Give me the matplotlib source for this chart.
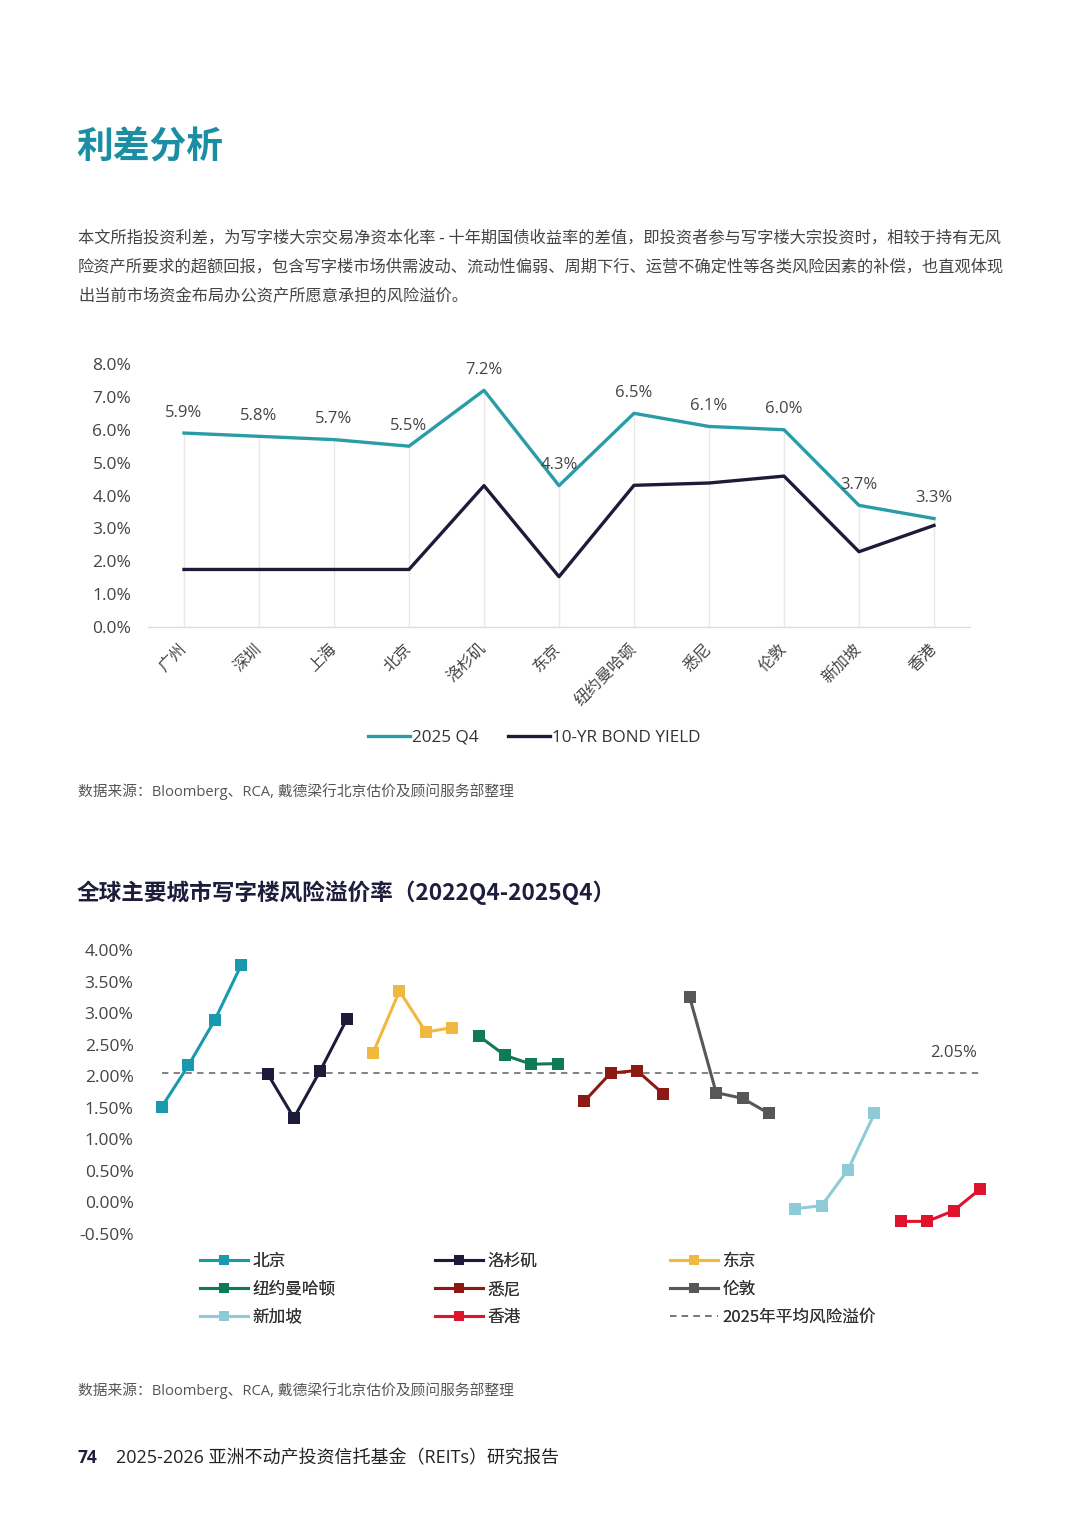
import matplotlib
matplotlib.use("Agg")
import matplotlib.pyplot as plt
import numpy as np

# ---------------- data ----------------
cities_top = ["广州", "深圳", "上海", "北京", "洛杉矶", "东京", "纽约曼哈顿", "悉尼", "伦敦", "新加坡", "香港"]
cap_2025q4 = [5.9, 5.8, 5.7, 5.5, 7.2, 4.3, 6.5, 6.1, 6.0, 3.7, 3.3]
bond_yield = [1.75, 1.75, 1.75, 1.75, 4.30, 1.53, 4.31, 4.38, 4.59, 2.29, 3.09]
top_yticks = [0, 1, 2, 3, 4, 5, 6, 7, 8]

risk_cities = ["北京", "洛杉矶", "东京", "纽约曼哈顿", "悉尼", "伦敦", "新加坡", "香港"]
beijing = [1.52, 2.17, 2.89, 3.76]
los_angeles = [2.04, 1.34, 2.09, 2.90]
tokyo = [2.37, 3.35, 2.70, 2.77]
new_york = [2.64, 2.33, 2.19, 2.20]
sydney = [1.60, 2.05, 2.09, 1.72]
london = [3.25, 1.74, 1.65, 1.41]
singapore = [-0.10, -0.05, 0.52, 1.41]
hong_kong = [-0.30, -0.30, -0.13, 0.21]
avg_premium_2025 = 2.05
bottom_yticks = [-0.5, 0, 0.5, 1.0, 1.5, 2.0, 2.5, 3.0, 3.5, 4.0]

risk_series = [beijing, los_angeles, tokyo, new_york, sydney, london, singapore, hong_kong]
risk_colors = ["#1A98AE", "#1D1B3B", "#F0B83E", "#0F7B56", "#8C1A12", "#575757", "#8DCBD7", "#E0132C"]

# ---------------- style ----------------
FONT = ["Open Sans", "Noto Sans CJK SC", "DejaVu Sans"]
CJK = ["Noto Sans CJK SC", "DejaVu Sans"]
plt.rcParams["font.family"] = FONT

W, H = 1080, 1527
fig = plt.figure(figsize=(W / 100, H / 100), dpi=100)
fig.patch.set_facecolor("white")

def fx(px):
    return px / W

def fy(py):
    return 1 - py / H

# title and paragraph
fig.text(fx(76), fy(148), "利差分析", family=CJK, fontsize=26.5, fontweight="heavy",
         color="#1A8FA3", va="center", ha="left")
para = [
    "本文所指投资利差，为写字楼大宗交易净资本化率 - 十年期国债收益率的差值，即投资者参与写字楼大宗投资时，相较于持有无风",
    "险资产所要求的超额回报，包含写字楼市场供需波动、流动性偏弱、周期下行、运营不确定性等各类风险因素的补偿，也直观体现",
    "出当前市场资金布局办公资产所愿意承担的风险溢价。",
]
for i, line in enumerate(para):
    fig.text(fx(78), fy(238 + 29 * i), line, family=CJK, fontsize=11.7, color="#444444",
             va="center", ha="left")

# ---------------- top chart ----------------
ax1 = fig.add_axes([fx(148), fy(627), fx(970) - fx(148), fy(364) - fy(627)])
x1 = np.arange(len(cities_top))
teal = "#2A9CA6"
navy = "#1E1B3A"
ax1.vlines(x1, 0, cap_2025q4, color="#E8E8E8", lw=1, zorder=1)
ax1.plot(x1, cap_2025q4, color=teal, lw=2.4, label="2025 Q4", zorder=3)
ax1.plot(x1, bond_yield, color=navy, lw=2.4, label="10-YR BOND YIELD", zorder=3)
for xi, v in zip(x1, cap_2025q4):
    ax1.annotate(f"{v:.1f}%", (xi, v), xytext=(0, 9), textcoords="offset points",
                 ha="center", va="bottom", fontsize=12, color="#444444")
ax1.set_xlim(-0.48, len(cities_top) - 0.52)
ax1.set_ylim(0, 8)
ax1.set_yticks(top_yticks)
ax1.set_yticklabels([f"{t:.1f}%" for t in top_yticks])
ax1.set_xticks(x1)
ax1.set_xticklabels(cities_top, rotation=45, ha="right", va="center",
                    rotation_mode="anchor", family=CJK, fontsize=11.5, color="#444444")
ax1.tick_params(axis="y", length=0, pad=12, labelsize=12.5, labelcolor="#444444")
ax1.tick_params(axis="x", length=0, pad=14)
for s in ["top", "right", "left"]:
    ax1.spines[s].set_visible(False)
ax1.spines["bottom"].set_color("#DDDDDD")
ax1.spines["bottom"].set_linewidth(1)

fig.legend(handles=ax1.get_lines(), loc="center", bbox_to_anchor=(fx(534), fy(738)),
           ncol=2, frameon=False, fontsize=12.3, handlelength=2.5, handletextpad=0.1,
           columnspacing=1.7, labelcolor="#333333")

fig.text(fx(78), fy(792), "数据来源：Bloomberg、RCA, 戴德梁行北京估价及顾问服务部整理",
         fontsize=10.6, color="#555555", va="center", ha="left")

# ---------------- bottom chart ----------------
fig.text(fx(77), fy(893), "全球主要城市写字楼风险溢价率（2022Q4-2025Q4）", family=CJK,
         fontsize=16.3, fontweight="bold", color="#1E1E3C", va="center", ha="left")

n_per = 4
ax2 = fig.add_axes([fx(148.8), fy(1234), fx(993.2) - fx(148.8), fy(950) - fy(1234)])
handles = []
for k, (name, vals, col) in enumerate(zip(risk_cities, risk_series, risk_colors)):
    xs = np.arange(k * n_per, (k + 1) * n_per)
    h, = ax2.plot(xs, vals, color=col, lw=2.2, marker="s", markersize=8.5,
                  markeredgewidth=0, label=name, zorder=3)
    handles.append(h)
total = n_per * len(risk_cities)
avg_line, = ax2.plot([0, total - 1], [avg_premium_2025, avg_premium_2025], color="#777777",
                     lw=1.3, ls=(0, (3.5, 3)), zorder=2, label="2025年平均风险溢价")
ax2.annotate(f"{avg_premium_2025:.2f}%", (total - 1.1, avg_premium_2025), xytext=(0, 9),
             textcoords="offset points", ha="right", va="bottom", fontsize=12,
             color="#444444")
ax2.set_xlim(-0.5, total - 0.5)
ax2.set_ylim(-0.5, 4.0)
ax2.set_yticks(bottom_yticks)
ax2.set_yticklabels([f"{t:.2f}%" for t in bottom_yticks])
ax2.set_xticks([])
ax2.tick_params(axis="y", length=0, pad=11, labelsize=12.5, labelcolor="#444444")
for s in ax2.spines.values():
    s.set_visible(False)

# legend in three columns (row-wise order)
cols = [[handles[0], handles[3], handles[6]],
        [handles[1], handles[4], handles[7]],
        [handles[2], handles[5], avg_line]]
col_x = [200, 435, 670]
for hs, cx in zip(cols, col_x):
    leg = fig.legend(handles=hs, loc="upper left", bbox_to_anchor=(fx(cx), fy(1253)),
                     frameon=False, handlelength=2.9, handletextpad=0.25,
                     labelspacing=0.65, borderpad=0, borderaxespad=0, numpoints=1,
                     markerscale=0.85, prop={"family": CJK, "size": 12},
                     labelcolor="#333333")
    fig.add_artist(leg)

fig.text(fx(78), fy(1391), "数据来源：Bloomberg、RCA, 戴德梁行北京估价及顾问服务部整理",
         fontsize=10.6, color="#555555", va="center", ha="left")

# footer
fig.text(fx(78), fy(1458), "74", fontsize=12.5, fontweight="bold", color="#1E1E3C",
         va="center", ha="left")
fig.text(fx(116), fy(1458), "2025-2026 亚洲不动产投资信托基金（REITs）研究报告",
         fontsize=13, color="#222222", va="center", ha="left")

fig.savefig("out.png", dpi=100, facecolor="white")
